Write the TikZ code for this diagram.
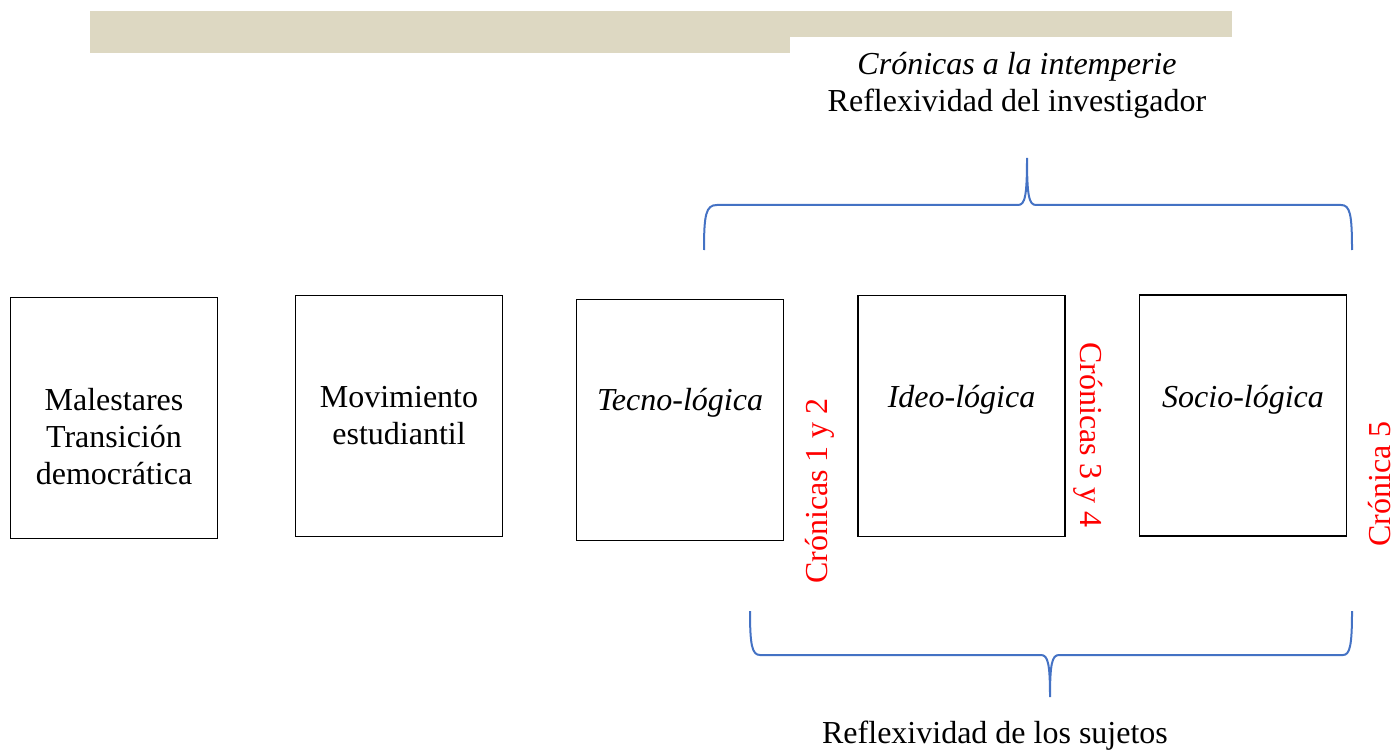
\documentclass[tikz,border=0pt]{standalone}
\usepackage{fontspec}
\setmainfont{Liberation Serif}
\usetikzlibrary{positioning}
\definecolor{barbeige}{RGB}{221,216,194}
\definecolor{bracecol}{RGB}{68,114,196}
\definecolor{cronred}{RGB}{255,0,0}

\begin{document}
\begin{tikzpicture}[x=1pt,y=-1pt,
  caja/.style={draw, line width=1.6pt, minimum width=207pt, minimum height=241pt, inner sep=0pt},
  txt/.style={font=\fontsize{32}{37}\selectfont, align=center, inner sep=0pt},
  cron/.style={txt, text=cronred},
  llave/.style={draw=bracecol, line width=2pt}]
\useasboundingbox (0,0) rectangle (1396,751);

% barra superior
\fill[barbeige] (90,11) rectangle (1232,37);
\fill[barbeige] (90,37) rectangle (790,53);

% cajas
\node[caja] (males) at (114,418) {};
\node[caja] (movim) at (399,416) {};
\node[caja] (tecno) at (680,420) {};
\node[caja] (ideo) at (961.5,416) {};
\node[caja] (socio) at (1243,415.5) {};

\node[txt] (malestxt) at ([yshift=-19pt]males.center) {Malestares\\Transición\\democrática};
\node[txt] (movimtxt) at (movim.center) {Movimiento\\estudiantil};
\node[txt] (tecnotxt) at ([yshift=17pt]tecno.center) {\textit{Tecno-lógica}};
\node[txt] (ideotxt) at ([yshift=16pt]ideo.center) {\textit{Ideo-lógica}};
\node[txt] (sociotxt) at ([yshift=16pt]socio.center) {\textit{Socio-lógica}};

% cronicas
\node[cron, rotate=90] (cron12) at (820,491) {Crónicas 1 y 2};
\node[cron, rotate=-90] (cron34) at (1088,435) {Crónicas 3 y 4};
\node[cron, rotate=90] (cron5) at (1380,484) {Crónica 5};

% llave de arriba
\draw[llave] (704,250) .. controls (704,214) and (706,205) .. (717,205) -- (1018,205)
  .. controls (1025,205) and (1027,196) .. (1027,158)
  .. controls (1027,196) and (1029,205) .. (1036,205) -- (1341,205)
  .. controls (1350,205) and (1352,214) .. (1352,250);
\node[txt] (intemp) at (1017,67) {\textit{Crónicas a la intemperie}};
\node[txt] (reflinv) at (1017,104) {Reflexividad del investigador};

% llave de abajo
\draw[llave] (750,611) .. controls (750,645) and (752,655) .. (760,655) -- (1041,655)
  .. controls (1048,655) and (1050,664) .. (1050,697)
  .. controls (1050,664) and (1052,655) .. (1059,655) -- (1343,655)
  .. controls (1350,655) and (1352,645) .. (1352,611);
\node[txt] (reflsuj) at (995,736) {Reflexividad de los sujetos};
\end{tikzpicture}
\end{document}
